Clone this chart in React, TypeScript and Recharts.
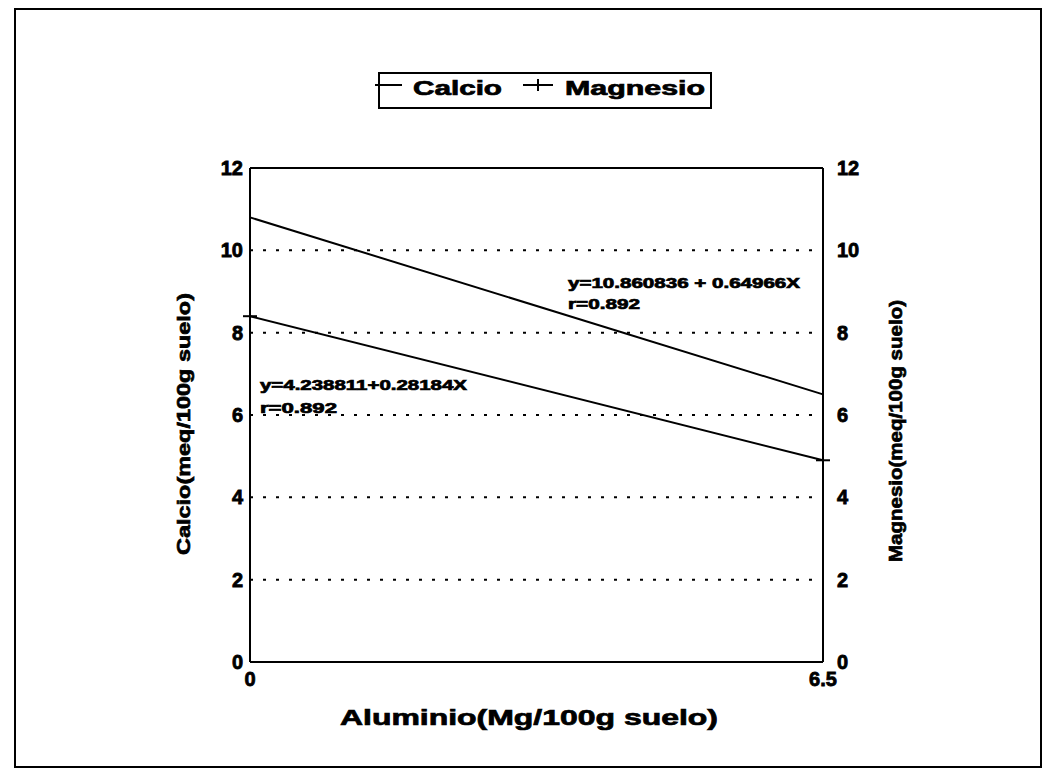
import React from 'react';
import {CartesianGrid, Line, LineChart, ReferenceLine, XAxis, YAxis} from 'recharts';

// aluminio values at the two ends of the fitted lines
const aluminio = [0, 6.5];
const calcio = [10.8, 6.5];
const magnesio = [8.4, 4.9];
const yTicks = [0, 2, 4, 6, 8, 10, 12];
const xTicks = [0, 6.5];

const rows = aluminio.map((x, i) => ({x, calcio: calcio[i], magnesio: magnesio[i]}));

const FONT = '"Liberation Sans", Arial, sans-serif';
const tickStyle = {fontFamily: FONT, fontSize: 20, fontWeight: 700, fill: '#000', stroke: '#000', strokeWidth: 0.8};

const PlusDot = (props: any) => {
    const {cx, cy} = props;
    if (cx == null || cy == null) return null;
    return (
        <g stroke="#000" strokeWidth={2}>
            <line x1={cx - 7} y1={cy} x2={cx + 7} y2={cy}/>
            <line x1={cx} y1={cy - 5} x2={cx} y2={cy + 5}/>
        </g>
    );
};

const txt = {fontFamily: FONT, fontWeight: 700, fill: '#000', stroke: '#000', strokeWidth: 0.7} as const;

export default function App() {
    return (
        <div style={{position: 'absolute', left: 0, top: 0, width: 1061, height: 775, background: '#fff'}}>
            <div style={{position: 'absolute', left: 14, top: 8, width: 1024, height: 756, border: '2px solid #000'}}/>
            <LineChart width={1061} height={775} data={rows} margin={{top: 168, right: 0, bottom: 0, left: 0}}>
                <CartesianGrid yAxisId="left" vertical={false} stroke="#000" strokeWidth={2} strokeDasharray="3 10"/>
                <XAxis dataKey="x" type="number" domain={[0, 6.5]} ticks={xTicks} height={113}
                       axisLine={{stroke: '#000', strokeWidth: 2}} tickLine={false} tickSize={0} tickMargin={10}
                       tick={tickStyle}/>
                <YAxis yAxisId="left" domain={[0, 12]} ticks={yTicks} width={250}
                       axisLine={{stroke: '#000', strokeWidth: 2}} tickLine={false} tickSize={0} tickMargin={7}
                       tick={tickStyle}/>
                <YAxis yAxisId="right" orientation="right" domain={[0, 12]} ticks={yTicks} width={238}
                       axisLine={{stroke: '#000', strokeWidth: 2}} tickLine={false} tickSize={0} tickMargin={14}
                       tick={{...tickStyle, textAnchor: 'start'}}/>
                <ReferenceLine yAxisId="left" y={12} stroke="#000" strokeWidth={2}/>
                <Line yAxisId="left" dataKey="calcio" stroke="#000" strokeWidth={2} dot={false}
                      isAnimationActive={false}/>
                <Line yAxisId="right" dataKey="magnesio" stroke="#000" strokeWidth={2} dot={<PlusDot/>}
                      isAnimationActive={false}/>
            </LineChart>
            <svg width={1061} height={775} style={{position: 'absolute', left: 0, top: 0, pointerEvents: 'none'}}>
                {/* legend box */}
                <rect x={379} y={73} width={332} height={35} fill="none" stroke="#000" strokeWidth={2}/>
                <line x1={375} y1={85} x2={402} y2={85} stroke="#000" strokeWidth={2}/>
                <text x={413} y={95} fontSize={20} textLength={89} lengthAdjust="spacingAndGlyphs" {...txt}>Calcio</text>
                <line x1={523} y1={85} x2={553} y2={85} stroke="#000" strokeWidth={2}/>
                <line x1={538} y1={79} x2={538} y2={91} stroke="#000" strokeWidth={2}/>
                <text x={565} y={95} fontSize={20} textLength={140} lengthAdjust="spacingAndGlyphs" {...txt}>Magnesio</text>

                {/* axis titles */}
                <text x={0} y={0} fontSize={19} textAnchor="middle" textLength={262} lengthAdjust="spacingAndGlyphs"
                      transform="translate(190,424) rotate(-90)" {...txt}>Calcio(meq/100g suelo)</text>
                <text x={0} y={0} fontSize={19} textAnchor="middle" textLength={262} lengthAdjust="spacingAndGlyphs"
                      transform="translate(902,431) rotate(-90)" {...txt}>Magnesio(meq/100g suelo)</text>
                <text x={529} y={725} fontSize={22} textAnchor="middle" textLength={378} lengthAdjust="spacingAndGlyphs"
                      {...txt}>Aluminio(Mg/100g suelo)</text>

                {/* regression annotations */}
                <text x={568} y={288} fontSize={14} textLength={232} lengthAdjust="spacingAndGlyphs" {...txt}>y=10.860836 + 0.64966X</text>
                <text x={568} y={309} fontSize={14} textLength={72} lengthAdjust="spacingAndGlyphs" {...txt}>r=0.892</text>
                <text x={260} y={390} fontSize={14} textLength={207} lengthAdjust="spacingAndGlyphs" {...txt}>y=4.238811+0.28184X</text>
                <text x={260} y={413} fontSize={14} textLength={77} lengthAdjust="spacingAndGlyphs" {...txt}>r=0.892</text>
            </svg>
        </div>
    );
}
